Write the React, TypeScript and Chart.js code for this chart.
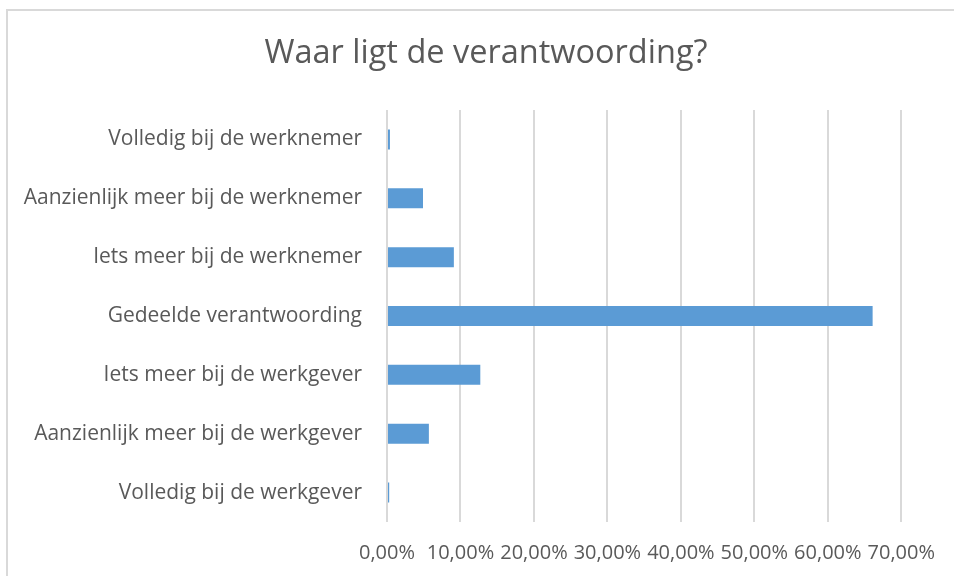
import React, { useEffect, useRef } from "react";
import { Chart, registerables } from "chart.js";

Chart.register(...registerables);

const categories = [
  "Volledig bij de werknemer",
  "Aanzienlijk meer bij de werknemer",
  "Iets meer bij de werknemer",
  "Gedeelde verantwoording",
  "Iets meer bij de werkgever",
  "Aanzienlijk meer bij de werkgever",
  "Volledig bij de werkgever",
];
const values = [0.004, 0.049, 0.091, 0.661, 0.127, 0.057, 0.003];
const xTickValues = [0, 0.1, 0.2, 0.3, 0.4, 0.5, 0.6, 0.7];
const titleText = "Waar ligt de verantwoording?";

const FONT = "'Open Sans', 'Liberation Sans', sans-serif";
const TEXT = "#595959";

const frame = {
  id: "frame",
  beforeDraw(chart: any) {
    const ctx = chart.ctx;
    ctx.save();
    ctx.fillStyle = "#ffffff";
    ctx.fillRect(0, 0, chart.width, chart.height);
    ctx.strokeStyle = "#d9d9d9";
    ctx.lineWidth = 2;
    ctx.strokeRect(7, 10, 960, 600);
    ctx.fillStyle = TEXT;
    ctx.font = `32.5px ${FONT}`;
    ctx.textAlign = "center";
    ctx.textBaseline = "middle";
    ctx.fillText(titleText, 486, 54);
    ctx.restore();
  },
};

export default function App() {
  const ref = useRef<HTMLCanvasElement | null>(null);
  useEffect(() => {
    if (!ref.current) return;
    const chart = new Chart(ref.current, {
      type: "bar",
      data: {
        labels: categories,
        datasets: [
          {
            data: values,
            backgroundColor: "#5B9BD5",
            borderWidth: 0,
            barPercentage: 0.34,
            categoryPercentage: 1,
          },
        ],
      },
      plugins: [frame],
      options: {
        indexAxis: "y",
        animation: false,
        responsive: false,
        maintainAspectRatio: false,
        layout: { padding: { top: 110, bottom: 13, left: 0, right: 52 } },
        plugins: {
          legend: { display: false },
          tooltip: { enabled: false },
          title: { display: false },
        },
        scales: {
          x: {
            min: 0,
            max: 0.7,
            afterBuildTicks(scale: any) {
              scale.ticks = xTickValues.map((v) => ({ value: v }));
            },
            afterFit(scale: any) {
              scale.height = 41;
            },
            grid: { color: "#d9d9d9", lineWidth: 2, drawTicks: false },
            border: { display: false },
            ticks: {
              color: TEXT,
              padding: 19,
              maxRotation: 0,
              autoSkip: false,
              font: { family: FONT, size: 20 },
              callback: (v: any) => (Number(v) * 100).toFixed(2).replace(".", ",") + "%",
            },
          },
          y: {
            grid: { display: false, drawTicks: false },
            border: { display: false },
            afterFit(scale: any) {
              scale.width = 387;
            },
            ticks: {
              color: TEXT,
              padding: 25,
              font: { family: FONT, size: 21 },
            },
          },
        },
      },
    });
    return () => chart.destroy();
  }, []);
  return (
    <div style={{ position: "absolute", left: 0, top: 0, width: 954, height: 576 }}>
      <canvas ref={ref} width={954} height={576} style={{ width: 954, height: 576 }} />
    </div>
  );
}
